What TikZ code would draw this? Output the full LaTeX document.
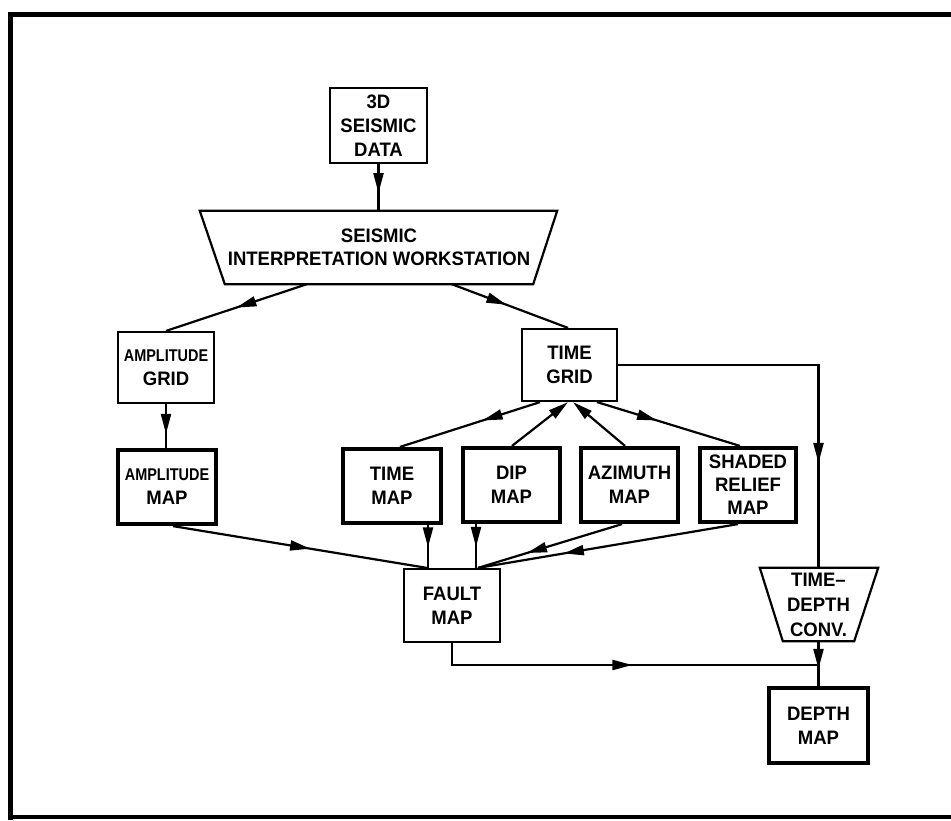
\documentclass[tikz,border=0pt]{standalone}
\usepackage{fontspec}
\setmainfont{Liberation Sans}[FakeStretch=0.95]
\newfontfamily\ampfont{Liberation Sans}[FakeStretch=0.85]
\newcommand\ampsty{\ampfont\fontsize{17}{24}\selectfont\bfseries}
\usetikzlibrary{arrows.meta,decorations.markings,calc}
\begin{document}
\begin{tikzpicture}[x=1pt,y=-1pt,
  txt/.style={font=\fontsize{19.5}{24}\selectfont\bfseries, align=center, inner sep=0pt},
  thinbox/.style={txt, draw, line width=2.2pt, minimum width=#1, minimum height=73pt},
  thickbox/.style={txt, draw, line width=4.2pt, minimum width=#1, minimum height=74pt},
  ghost/.style={txt, minimum width=#1, minimum height=73pt},
  conn/.style={line width=2.2pt},
  tip/.tip={Triangle[length=20pt,width=10pt]},
  arr/.style={conn, postaction={decorate}, decoration={markings,
     mark=at position #1 with {\arrow{tip}}}}
]
\useasboundingbox (0,0) rectangle (951,820);
% frame
\draw[line width=5pt] (960,14.5) -- (10,14.5) -- (10,820);
\draw[line width=4pt] (8,817) -- (960,817);

% nodes
\node[thinbox=97pt, minimum height=75pt] (d3) at (378.5,125.5) {3D\\SEISMIC\\DATA};
\node[ghost=308pt, font=\fontsize{19.5}{22.5}\selectfont\bfseries] (ws) at (379,247.5) {SEISMIC\\INTERPRETATION WORKSTATION};
\draw[line width=2.2pt, line join=miter] ([xshift=-25pt]ws.north west) -- ([xshift=24pt]ws.north east)
   -- (ws.south east) -- (ws.south west) -- cycle;
\node[thinbox=96pt, minimum height=71pt] (ag) at (166,367.5) {{\ampsty AMPLITUDE}\\GRID};
\node[thinbox=95pt, minimum height=72pt] (tg) at (569.5,365) {TIME\\GRID};
\node[thickbox=98pt] (am) at (167,487) {{\ampsty AMPLITUDE}\\MAP};
\node[thickbox=98pt] (tm) at (392,486) {TIME\\MAP};
\node[thickbox=97pt] (dm) at (511.5,485) {DIP\\MAP};
\node[thickbox=97pt] (az) at (629.5,485) {AZIMUTH\\MAP};
\node[thickbox=96pt, font=\fontsize{19.5}{23}\selectfont\bfseries] (sr) at (748,485) {SHADED\\RELIEF\\MAP};
\node[thinbox=96pt] (fm) at (452,605.5) {FAULT\\MAP};
\node[ghost=71pt, font=\fontsize{19.5}{25}\selectfont\bfseries] (td) at (818.5,604.5) {TIME–\\DEPTH\\CONV.};
\draw[line width=2.2pt, line join=miter] ([xshift=-23pt]td.north west) -- ([xshift=24pt]td.north east)
   -- (td.south east) -- (td.south west) -- cycle;
\node[thickbox=99pt, minimum height=75pt] (dp) at (818.5,725.5) {DEPTH\\MAP};
\coordinate (j) at (819,665);

% connectors
\draw[arr=0.62] (d3.south) -- (d3.south |- ws.north);
\draw[arr=0.5] ([xshift=82pt]ws.south west) -- (ag.north);
\draw[arr=0.47] ([xshift=227pt]ws.south west) -- ([xshift=-1.5pt]tg.north);
\draw[arr=0.68] (ag.south) -- (ag.south |- am.north);
\draw[arr=0.54] ([xshift=6pt]am.south) -- ([xshift=-25pt]fm.north);
\draw[arr=0.41] ([xshift=-29.5pt]tg.south) -- ([xshift=8pt]tm.north);
\draw[conn,-tip] ([xshift=0.5pt]dm.north) -- ([xshift=-1.5pt]tg.south);
\draw[conn,-tip] ([xshift=-4.5pt]az.north) -- ([xshift=3.5pt]tg.south);
\draw[arr=0.42] ([xshift=27.5pt]tg.south) -- ([xshift=-8pt]sr.north);
\draw[arr=0.52] ([xshift=36pt]tm.south) -- ([xshift=36pt]tm.south |- fm.north);
\draw[arr=0.52] ([xshift=-35.5pt]dm.south) -- ([xshift=-35.5pt]dm.south |- fm.north);
\draw[arr=0.66] ([xshift=-7.5pt]az.south) -- ([xshift=26pt]fm.north);
\draw[arr=0.67] ([xshift=-10pt]sr.south) -- ([xshift=26pt]fm.north);
\draw[arr=0.74] (tg.east) -- (td.north |- tg.east) -- (td.north);
\draw[arr=0.52] (fm.south) |- (j);
\draw[arr=0.62] (td.south) -- (td.south |- dp.north);
\end{tikzpicture}
\end{document}
